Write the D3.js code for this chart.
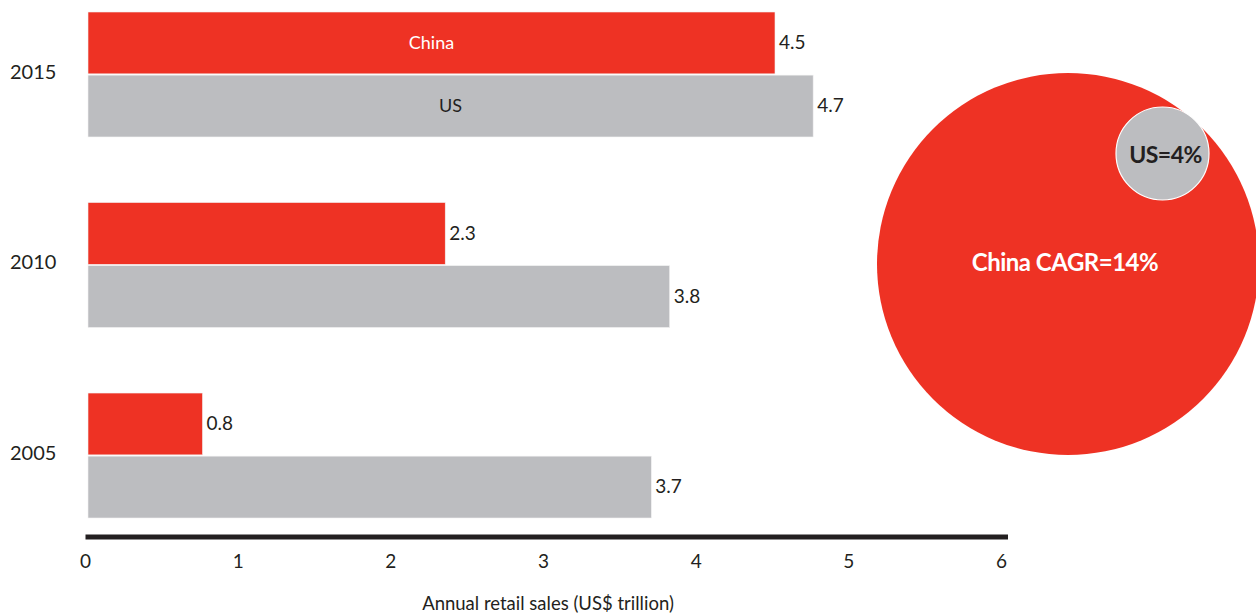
<!DOCTYPE html>
<html>
<head>
<meta charset="utf-8">
<script src="https://cdn.jsdelivr.net/npm/d3@7/dist/d3.min.js"></script>
<style>
  body { margin: 0; background: #fff; }
  svg text { font-family: "Lato", "Noto Sans", sans-serif; fill: #231f20; }
</style>
</head>
<body>
<script>
// Data
var years = ["2015", "2010", "2005"];
var series = ["China", "US"];
var chinaValues = [4.5, 2.34, 0.75];
var usValues = [4.75, 3.81, 3.69];
var chinaLabels = ["4.5", "2.3", "0.8"];
var usLabels = ["4.7", "3.8", "3.7"];
var xTicks = [0, 1, 2, 3, 4, 5, 6];
var cagrNames = ["China CAGR=14%", "US=4%"];

var width = 1256;
var height = 615;
var red = "#ee3224";
var grey = "#bcbdc0";

var svg = d3.select("body")
            .append("svg")
            .attr("width", width)
            .attr("height", height);

var x = d3.scaleLinear()
          .domain([0, 6])
          .range([88, 1004]);

var y = d3.scaleBand()
          .domain(years)
          .range([12, 518])
          .paddingInner(0.344);

var ySub = d3.scaleBand()
             .domain(series)
             .range([0, y.bandwidth()])
             .paddingInner(0.02);

var rows = years.map(function(yr, i) {
  return {
    year: yr,
    bars: [
      { s: "China", v: chinaValues[i], label: chinaLabels[i] },
      { s: "US", v: usValues[i], label: usLabels[i] }
    ]
  };
});

var groups = svg.selectAll("g.year")
                .data(rows)
                .enter()
                .append("g")
                .attr("class", "year")
                .attr("transform", function(d) { return "translate(0," + y(d.year) + ")"; });

groups.selectAll("rect")
      .data(function(d) { return d.bars; })
      .enter()
      .append("rect")
      .attr("x", x(0))
      .attr("y", function(d) { return ySub(d.s); })
      .attr("width", function(d) { return x(d.v) - x(0); })
      .attr("height", ySub.bandwidth())
      .attr("fill", function(d) { return d.s === "China" ? red : grey; })
      .attr("stroke", "#f2f2f2")
      .attr("stroke-width", 0.6);

// value labels
groups.selectAll("text.val")
      .data(function(d) { return d.bars; })
      .enter()
      .append("text")
      .attr("class", "val")
      .attr("x", function(d) { return x(d.v) + 4; })
      .attr("y", function(d) { return ySub(d.s) + ySub.bandwidth() / 2; })
      .attr("dy", "0.32em")
      .attr("font-size", "19px")
      .text(function(d) { return d.label; });

// series names inside 2015 bars
groups.filter(function(d) { return d.year === "2015"; })
      .selectAll("text.name")
      .data(function(d) { return d.bars; })
      .enter()
      .append("text")
      .attr("class", "name")
      .attr("x", function(d) { return (x(0) + x(d.v)) / 2; })
      .attr("y", function(d) { return ySub(d.s) + ySub.bandwidth() / 2; })
      .attr("dy", "0.32em")
      .attr("text-anchor", "middle")
      .attr("font-size", "18px")
      .style("fill", function(d) { return d.s === "China" ? "#fff" : "#231f20"; })
      .text(function(d) { return d.s; });

// year labels
svg.selectAll("text.yr")
   .data(years)
   .enter()
   .append("text")
   .attr("class", "yr")
   .attr("x", 10)
   .attr("y", function(d) { return y(d) + y.bandwidth() / 2; })
   .attr("dy", "0.22em")
   .attr("font-size", "20px")
   .text(function(d) { return d; });

// x axis
var xAxis = d3.axisBottom(x)
              .tickValues(xTicks)
              .tickSize(0)
              .tickPadding(18)
              .tickFormat(d3.format("d"));

var gx = svg.append("g")
            .attr("transform", "translate(0,537)")
            .call(xAxis);

gx.select(".domain")
  .attr("stroke", "#231f20")
  .attr("stroke-width", 5)
  .attr("d", "M" + (x(0) - 2.5) + ",0H" + (x(6) + 4));

gx.selectAll(".tick text")
  .attr("font-size", "19px")
  .attr("font-family", null)
  .attr("fill", null)
  .attr("dx", "-3");

svg.append("text")
   .attr("x", 548)
   .attr("y", 610)
   .attr("text-anchor", "middle")
   .attr("font-size", "18.5px")
   .text("Annual retail sales (US$ trillion)");

// CAGR bubbles
var bubbles = [
  { name: cagrNames[0], cx: 1068, cy: 264, r: 191, fill: red, color: "#fff", size: "24px" },
  { name: cagrNames[1], cx: 1162.5, cy: 153.5, r: 46.5, fill: grey, color: "#231f20", size: "23px" }
];

svg.selectAll("circle")
   .data(bubbles)
   .enter()
   .append("circle")
   .attr("cx", function(d) { return d.cx; })
   .attr("cy", function(d) { return d.cy; })
   .attr("r", function(d) { return d.r; })
   .attr("fill", function(d) { return d.fill; })
   .attr("stroke", function(d, i) { return i === 1 ? "#fff" : "none"; })
   .attr("stroke-width", 1.2);

svg.selectAll("text.bub")
   .data(bubbles)
   .enter()
   .append("text")
   .attr("class", "bub")
   .attr("x", function(d, i) { return i === 0 ? 1065 : d.cx + 3; })
   .attr("y", function(d, i) { return i === 0 ? 263 : d.cy + 1; })
   .attr("dy", "0.35em")
   .attr("text-anchor", "middle")
   .attr("font-size", function(d) { return d.size; })
   .attr("font-weight", "bold")
   .attr("letter-spacing", "-0.5px")
   .style("fill", function(d) { return d.color; })
   .text(function(d) { return d.name; });
</script>
</body>
</html>
